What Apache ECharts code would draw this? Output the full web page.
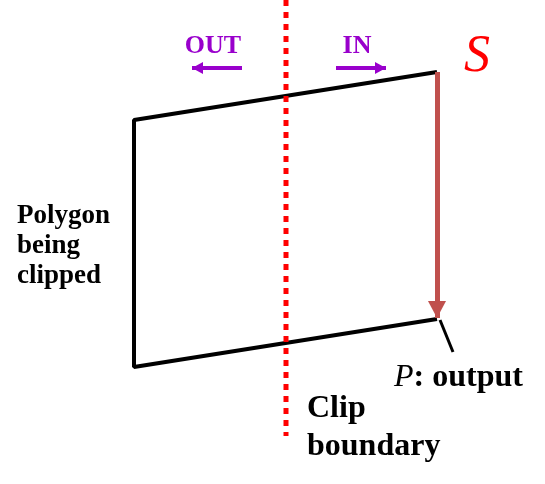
<!DOCTYPE html>
<html>
<head>
<meta charset="utf-8">
<script src="https://cdn.jsdelivr.net/npm/echarts@6/dist/echarts.min.js"></script>
<style>
  html, body { margin: 0; padding: 0; background: #fff; }
  #chart { width: 545px; height: 484px; }
</style>
</head>
<body>
<div id="chart"></div>
<script>
// 图上的坐标（像素空间，y 向下）
const polygonPoints = [[437, 72], [134, 120], [134, 367], [437, 319]]
const clipLine = [[286, 0], [286, 436]]
const edgeSP = [[437, 72], [437, 318]]
const outArrow = [[242, 68], [192, 68]]
const inArrow = [[336, 68], [386, 68]]
const pointerLine = [[440, 320], [453, 352]]

const labelPoints = [[213, 46], [357, 46], [477, 57], [394, 378], [17, 216], [17, 246], [17, 276], [307, 409], [307, 447]]
const labelTexts = ['OUT', 'IN', 'S', '{i|P}: output', 'Polygon', 'being', 'clipped', 'Clip', 'boundary']

const serif = 'Liberation Serif'

function initDiagram() {
    let myChart = echarts.init(document.querySelector('#chart'))

    const styles = [
        { color: '#9900CC', fontSize: 26, align: 'center' },
        { color: '#9900CC', fontSize: 26, align: 'center' },
        { color: '#FF0000', fontSize: 52, fontStyle: 'italic', fontWeight: 'normal', align: 'center' },
        { color: '#000', fontSize: 32, align: 'left' },
        { color: '#000', fontSize: 27, align: 'left' },
        { color: '#000', fontSize: 27, align: 'left' },
        { color: '#000', fontSize: 27, align: 'left' },
        { color: '#000', fontSize: 32, align: 'left' },
        { color: '#000', fontSize: 32, align: 'left' }
    ]

    const textData = labelPoints.map((p, i) => ({
        value: p,
        label: Object.assign({
            show: true,
            position: 'inside',
            verticalAlign: 'middle',
            fontFamily: serif,
            fontWeight: 'bold',
            opacity: 1,
            formatter: labelTexts[i],
            rich: {
                i: { fontStyle: 'italic', fontWeight: 'normal', fontSize: 32, fontFamily: serif, color: '#000' }
            }
        }, styles[i])
    }))

    // 箭头头部：放在每条箭头线的终点，往回挪半个头长让尖端对准终点
    const heads = [
        { value: edgeSP[1], symbolRotate: 180, symbolSize: [18, 17], symbolOffset: [0, -8.5], itemStyle: { color: '#C0504D' } },
        { value: outArrow[1], symbolRotate: 90, symbolSize: [12, 11], symbolOffset: [5.5, 0], itemStyle: { color: '#9900CC' } },
        { value: inArrow[1], symbolRotate: -90, symbolSize: [12, 11], symbolOffset: [-5.5, 0], itemStyle: { color: '#9900CC' } }
    ]

    const option = {
        animation: false,
        grid: { left: 0, right: 0, top: 0, bottom: 0 },
        xAxis: { type: 'value', min: 0, max: 545, show: false },
        yAxis: { type: 'value', min: 0, max: 484, inverse: true, show: false },
        series: [
            {
                type: 'line',
                data: polygonPoints,
                symbol: 'none',
                lineStyle: { color: '#000', width: 4 }
            },
            {
                type: 'line',
                data: pointerLine,
                symbol: 'none',
                lineStyle: { color: '#000', width: 3 }
            },
            {
                type: 'line',
                data: clipLine,
                symbol: 'none',
                z: 5,
                lineStyle: { color: '#FF0000', width: 5, type: [6, 6], cap: 'butt' }
            },
            {
                type: 'lines',
                coordinateSystem: 'cartesian2d',
                z: 6,
                lineStyle: { color: '#C0504D', width: 5, opacity: 1 },
                data: [{ coords: edgeSP }]
            },
            {
                type: 'lines',
                coordinateSystem: 'cartesian2d',
                lineStyle: { color: '#9900CC', width: 4, opacity: 1 },
                data: [{ coords: outArrow }, { coords: inArrow }]
            },
            {
                type: 'scatter',
                symbol: 'triangle',
                silent: true,
                z: 7,
                itemStyle: { opacity: 1 },
                data: heads
            },
            {
                type: 'scatter',
                symbolSize: 0,
                silent: true,
                itemStyle: { opacity: 1 },
                data: textData
            }
        ]
    }

    myChart.setOption(option)
}
initDiagram()
</script>
</body>
</html>
